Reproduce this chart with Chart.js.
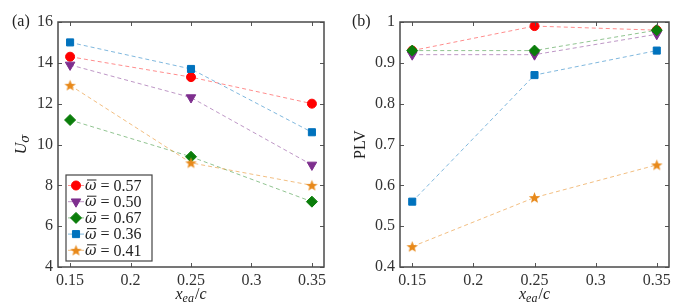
<!DOCTYPE html>
<html>
<head>
<meta charset="utf-8">
<script src="https://cdn.jsdelivr.net/npm/chart.js@4.4.0/dist/chart.umd.min.js"></script>
<style>
  body { margin: 0; background: #fff; }
  #wrap { position: relative; width: 692px; height: 305px; }
  canvas { position: absolute; top: 0; }
  .tag { position: absolute; top: 12px; font: 16px "Liberation Serif", serif; color: #222; }
</style>
</head>
<body>
<div id="wrap">
  <canvas id="left" width="345" height="305" style="left:0"></canvas>
  <canvas id="right" width="347" height="305" style="left:345px"></canvas>
  <div class="tag" style="left:12px">(a)</div>
  <div class="tag" style="left:352px">(b)</div>
</div>
<script>
// x positions (x_ea / c)
const positions = [0.15, 0.25, 0.35];
const seriesNames = ['0.57', '0.50', '0.67', '0.36', '0.41'];

// U_sigma
const uRed = [14.3, 13.3, 12.0];
const uPurple = [13.9, 12.3, 9.0];
const uGreen = [11.2, 9.4, 7.2];
const uBlue = [15.0, 13.7, 10.6];
const uOrange = [12.9, 9.1, 8.0];

// PLV
const pRed = [0.93, 0.99, 0.98];
const pPurple = [0.92, 0.92, 0.97];
const pGreen = [0.93, 0.93, 0.98];
const pBlue = [0.56, 0.87, 0.93];
const pOrange = [0.45, 0.57, 0.65];

const xTicks = [0.15, 0.2, 0.25, 0.3, 0.35];
const xTickLabels = ['0.15', '0.2', '0.25', '0.3', '0.35'];
const uTicks = [4, 6, 8, 10, 12, 14, 16];
const pTicks = [0.4, 0.5, 0.6, 0.7, 0.8, 0.9, 1];

const FONT = '"Liberation Serif", serif';
const GREEK = '"DejaVu Serif", serif';

// filled five point star marker
function makeStar(color) {
    const c = document.createElement('canvas');
    c.width = 13; c.height = 13;
    const g = c.getContext('2d');
    g.beginPath();
    for (let i = 0; i < 10; i++) {
        const r = i % 2 === 0 ? 6 : 2.6;
        const a = -Math.PI / 2 + i * Math.PI / 5;
        const px = 6.5 + r * Math.cos(a), py = 7 + r * Math.sin(a);
        if (i === 0) g.moveTo(px, py); else g.lineTo(px, py);
    }
    g.closePath();
    g.fillStyle = color;
    g.fill();
    return c;
}

const styles = [
    { color: '#ff0000', line: 'rgba(255,0,0,0.45)', point: 'circle', radius: 4.5, rotation: 0 },
    { color: '#7e2f8e', line: 'rgba(126,47,142,0.5)', point: 'triangle', radius: 5.5, rotation: 180 },
    { color: '#0a7d0a', line: 'rgba(10,125,10,0.45)', point: 'rectRot', radius: 5.5, rotation: 0 },
    { color: '#0072bd', line: 'rgba(0,114,189,0.5)', point: 'rect', radius: 5, rotation: 0 },
    { color: '#e8891a', line: 'rgba(232,137,26,0.55)', point: makeStar('#e8891a'), radius: 6, rotation: 0 }
];

function buildDatasets(list) {
    return list.map((vals, i) => ({
        label: seriesNames[i],
        data: vals.map((v, k) => ({ x: positions[k], y: v })),
        borderColor: styles[i].line,
        borderWidth: 1,
        borderDash: [4, 3],
        pointStyle: styles[i].point,
        pointRadius: styles[i].radius,
        pointRotation: styles[i].rotation,
        pointBackgroundColor: styles[i].color,
        pointBorderColor: styles[i].color,
        pointBorderWidth: 1,
        order: 5 - i
    }));
}

// axes box with inward ticks
const boxPlugin = {
    id: 'box',
    afterDraw(chart) {
        const { ctx, chartArea: a, scales } = chart;
        ctx.save();
        ctx.strokeStyle = '#555';
        ctx.lineWidth = 1;
        ctx.beginPath();
        scales.x.ticks.forEach(t => {
            const px = Math.round(scales.x.getPixelForValue(t.value)) + 0.5;
            ctx.moveTo(px, a.bottom); ctx.lineTo(px, a.bottom - 4);
            ctx.moveTo(px, a.top); ctx.lineTo(px, a.top + 4);
        });
        scales.y.ticks.forEach(t => {
            const py = Math.round(scales.y.getPixelForValue(t.value)) + 0.5;
            ctx.moveTo(a.left, py); ctx.lineTo(a.left + 4, py);
            ctx.moveTo(a.right, py); ctx.lineTo(a.right - 4, py);
        });
        ctx.stroke();
        ctx.lineWidth = 1.5;
        ctx.strokeStyle = '#4a4a4a';
        ctx.strokeRect(a.left, a.top, a.right - a.left, a.bottom - a.top);
        ctx.restore();
    }
};

// x axis title: x_ea / c
function drawXTitle(ctx, cx, y) {
    ctx.save();
    ctx.fillStyle = '#222';
    ctx.textBaseline = 'alphabetic';
    const big = 'italic 16px ' + FONT, small = 'italic 12px ' + FONT;
    ctx.font = big; const w1 = ctx.measureText('x').width;
    ctx.font = small; const w2 = ctx.measureText('ea').width;
    ctx.font = '16px ' + FONT; const w3 = ctx.measureText('/').width;
    ctx.font = big; const w4 = ctx.measureText('c').width;
    let x = cx - (w1 + w2 + w3 + w4 + 1) / 2;
    ctx.font = big; ctx.fillText('x', x, y); x += w1;
    ctx.font = small; ctx.fillText('ea', x, y + 3); x += w2 + 1;
    ctx.font = '16px ' + FONT; ctx.fillText('/', x, y); x += w3;
    ctx.font = big; ctx.fillText('c', x, y);
    ctx.restore();
}

function titlesPlugin(yTitle) {
    return {
        id: 'titles',
        afterDraw(chart) {
            const { ctx, chartArea: a } = chart;
            drawXTitle(ctx, (a.left + a.right) / 2, 299);
            ctx.save();
            ctx.fillStyle = '#222';
            ctx.translate(yTitle.x, (a.top + a.bottom) / 2);
            ctx.rotate(-Math.PI / 2);
            ctx.textBaseline = 'alphabetic';
            if (yTitle.sub) {
                ctx.font = 'italic 16px ' + FONT;
                const w1 = ctx.measureText('U').width;
                ctx.font = 'italic 12px ' + GREEK;
                const w2 = ctx.measureText('\u03c3').width;
                let x = -(w1 + w2) / 2;
                ctx.font = 'italic 16px ' + FONT; ctx.fillText('U', x, 5);
                ctx.font = 'italic 12px ' + GREEK; ctx.fillText('\u03c3', x + w1, 8);
            } else {
                ctx.font = '16px ' + FONT;
                ctx.textAlign = 'center';
                ctx.fillText(yTitle.text, 0, 5);
            }
            ctx.restore();
        }
    };
}

// legend inside the chart area
const legendPlugin = {
    id: 'boxLegend',
    afterDraw(chart) {
        const { ctx, chartArea: a } = chart;
        const x0 = a.left + 8, y0 = a.bottom - 92, w = 86, h = 86;
        ctx.save();
        ctx.fillStyle = '#fff';
        ctx.fillRect(x0, y0, w, h);
        ctx.strokeStyle = '#444';
        ctx.lineWidth = 1.2;
        ctx.strokeRect(x0, y0, w, h);
        chart.data.datasets.forEach((ds, i) => {
            const yy = y0 + 10.5 + i * 16.2;
            ctx.strokeStyle = ds.borderColor;
            ctx.lineWidth = 1;
            ctx.beginPath(); ctx.moveTo(x0 + 2, yy); ctx.lineTo(x0 + 18, yy); ctx.stroke();
            ctx.fillStyle = ds.pointBackgroundColor;
            ctx.strokeStyle = ds.pointBorderColor;
            Chart.helpers.drawPoint(ctx, {
                pointStyle: ds.pointStyle, radius: ds.pointRadius,
                rotation: ds.pointRotation, borderWidth: 1
            }, x0 + 10, yy);
            ctx.fillStyle = '#222';
            ctx.textBaseline = 'middle';
            ctx.textAlign = 'left';
            ctx.font = 'italic 14px ' + GREEK;
            const tx = x0 + 19;
            ctx.fillText('\u03c9', tx, yy + 1);
            const ww = ctx.measureText('\u03c9').width;
            ctx.fillRect(tx + 2, yy - 6, ww - 2, 1);
            ctx.font = '16px ' + FONT;
            ctx.fillText(' = ' + ds.label, tx + ww, yy + 1);
        });
        ctx.restore();
    }
};

function makeChart(id, list, yMin, yMax, yTickVals, yFmt, pad, yWidth, yTitle, legend) {
    const plugins = [boxPlugin, titlesPlugin(yTitle)];
    if (legend) plugins.push(legendPlugin);
    return new Chart(document.getElementById(id), {
        type: 'line',
        data: { datasets: buildDatasets(list) },
        plugins: plugins,
        options: {
            responsive: false,
            animation: false,
            devicePixelRatio: 1,
            layout: { padding: pad },
            plugins: { legend: { display: false }, tooltip: { enabled: false } },
            scales: {
                x: {
                    type: 'linear', min: 0.14, max: 0.36,
                    grid: { display: false, drawTicks: false },
                    border: { display: false },
                    afterBuildTicks: s => { s.ticks = xTicks.map(v => ({ value: v })); },
                    afterFit: s => { s.height = 38; },
                    ticks: {
                        padding: 4, color: '#333', font: { family: FONT, size: 16 },
                        maxRotation: 0,
                        callback: v => xTickLabels[xTicks.indexOf(v)]
                    }
                },
                y: {
                    min: yMin, max: yMax,
                    grid: { display: false, drawTicks: false },
                    border: { display: false },
                    afterBuildTicks: s => { s.ticks = yTickVals.map(v => ({ value: v })); },
                    afterFit: s => { s.width = yWidth; },
                    ticks: {
                        padding: 5, color: '#333', font: { family: FONT, size: 16 },
                        callback: yFmt
                    }
                }
            }
        }
    });
}

makeChart('left', [uRed, uPurple, uGreen, uBlue, uOrange], 4, 16, uTicks, v => String(v),
    { left: 0, right: 21, top: 22, bottom: 0 }, 58, { sub: true, x: 21 }, true);
makeChart('right', [pRed, pPurple, pGreen, pBlue, pOrange], 0.4, 1, pTicks, v => (v === 1 ? '1' : v.toFixed(1)),
    { left: 0, right: 23, top: 22, bottom: 0 }, 55, { text: 'PLV', x: 15 }, false);
</script>
</body>
</html>
